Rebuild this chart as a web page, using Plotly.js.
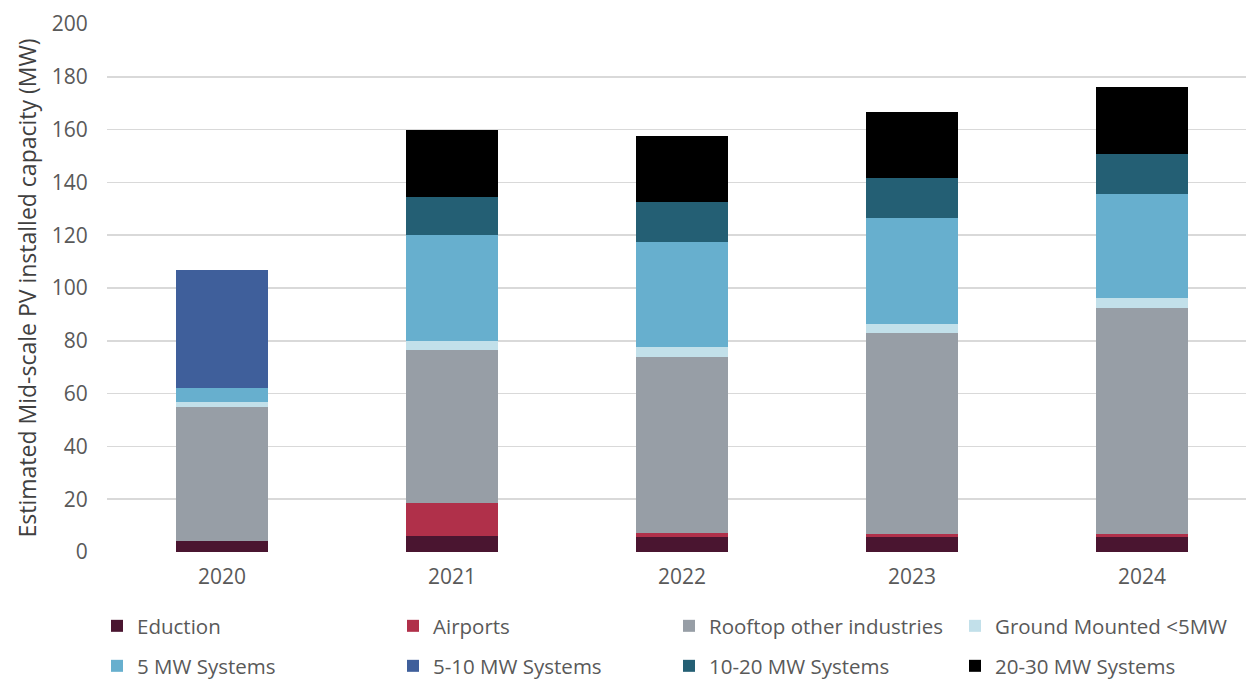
<!DOCTYPE html>
<html>
<head>
<meta charset="utf-8">
<script src="https://cdn.plot.ly/plotly-3.0.1.min.js"></script>
<style>html,body{margin:0;padding:0;background:#fff;}#chart{width:1246px;height:681px;}</style>
</head>
<body>
<div id="chart"></div>
<script>
const years = ["2020", "2021", "2022", "2023", "2024"];
const eduction      = [4.0, 6.0, 5.8, 5.6, 5.6];
const airports      = [0.0, 12.5, 1.4, 1.3, 1.3];
const rooftop       = [51.0, 58.0, 66.8, 76.2, 85.5];
const groundSmall   = [2.0, 3.5, 3.5, 3.4, 3.7];
const mw5           = [5.0, 40.0, 40.0, 40.0, 39.6];
const mw5to10       = [45.0, 0, 0, 0, 0];
const mw10to20      = [0, 14.5, 15.0, 15.0, 15.0];
const mw20to30      = [0, 25.2, 25.0, 25.0, 25.3];
const seriesNames = ["Eduction", "Airports", "Rooftop other industries", "Ground Mounted <5MW",
                     "5 MW Systems", "5-10 MW Systems", "10-20 MW Systems", "20-30 MW Systems"];
const yTicks = [0, 20, 40, 60, 80, 100, 120, 140, 160, 180, 200];

const seriesData = [eduction, airports, rooftop, groundSmall, mw5, mw5to10, mw10to20, mw20to30];
const colors = ["#4a1530", "#b0304a", "#979ea6", "#c2e0ea", "#67afce", "#3f5f9b", "#245f74", "#000000"];

// legend slot placement (text start x, row centre y) in pixels
const legendTextX = [137, 433, 709, 995];
const legendRowY = [626, 666];

const legendIds = ["legend", "legend2", "legend3", "legend4", "legend5", "legend6", "legend7", "legend8"];

const traces = seriesData.map((vals, i) => ({
  type: "bar",
  name: seriesNames[i],
  x: years,
  y: vals,
  marker: {color: colors[i], line: {width: 0}},
  legend: legendIds[i],
  hoverinfo: "name+y"
}));

const font = "'Open Sans', 'Noto Sans', sans-serif";

const layout = {
  width: 1246, height: 681,
  margin: {l: 107, r: 0, t: 24, b: 129},
  paper_bgcolor: "#ffffff", plot_bgcolor: "#ffffff",
  barmode: "stack",
  bargap: 0.6,
  font: {family: font, size: 22, color: "#595959"},
  xaxis: {
    type: "category",
    range: [-0.5, 4.452],
    showgrid: false, zeroline: false, showline: false,
    ticks: "outside", ticklen: 6, tickcolor: "rgba(0,0,0,0)",
    tickfont: {family: font, size: 21, color: "#595959"}
  },
  yaxis: {
    range: [0, 200],
    tickvals: yTicks,
    ticktext: yTicks.map(String),
    showgrid: true, gridcolor: "#d9d9d9", gridwidth: 1.5,
    zeroline: false, showline: false,
    ticks: "outside", ticklen: 14, tickcolor: "rgba(0,0,0,0)",
    tickfont: {family: font, size: 21, color: "#595959"},
    title: {text: "Estimated Mid-scale PV installed capacity (MW)", standoff: 8,
            font: {family: font, size: 23, color: "#404040"}}
  },
  showlegend: true
};

legendIds.forEach((id, i) => {
  const col = i % 4, row = Math.floor(i / 4);
  layout[id] = {
    orientation: "h",
    xref: "container", yref: "container",
    xanchor: "left", yanchor: "middle",
    x: (legendTextX[col] - 40) / 1246,
    y: 1 - legendRowY[row] / 681,
    font: {family: font, size: 20.5, color: "#595959"},
    bgcolor: "rgba(0,0,0,0)",
    borderwidth: 0,
    itemclick: false, itemdoubleclick: false
  };
});

Plotly.newPlot("chart", traces, layout, {displayModeBar: false, staticPlot: true});
</script>
</body>
</html>
